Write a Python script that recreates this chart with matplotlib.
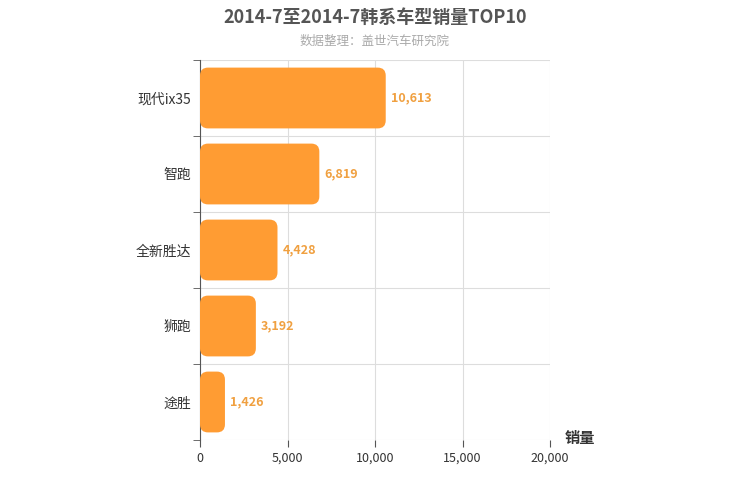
import matplotlib
matplotlib.use("Agg")
import matplotlib.pyplot as plt
from matplotlib.patches import FancyBboxPatch

plt.rcParams['font.family'] = ['Noto Sans CJK SC', 'DejaVu Sans']

categories = ["现代ix35", "智跑", "全新胜达", "狮跑", "途胜"]
values = [10613, 6819, 4428, 3192, 1426]
xticks = [0, 5000, 10000, 15000, 20000]

fig = plt.figure(figsize=(7.5, 5), dpi=100)
ax = fig.add_axes([200/750, 60/500, 350/750, 380/500])
n = len(categories)
ax.set_xlim(0, 20000)
ax.set_ylim(-0.5, n - 0.5)
ax.invert_yaxis()

xpp = 20000 / 350
ypp = n / 380
r = 8 * xpp
bh = 0.8
for i, v in enumerate(values):
    p = FancyBboxPatch((0, i - bh/2), v, bh,
                       boxstyle=f"round,pad=0,rounding_size={r}",
                       mutation_aspect=ypp/xpp,
                       fc="#FF9C33", ec="none", zorder=3)
    ax.add_patch(p)
    ax.text(v + 300, i, f"{v:,}", va="center", ha="left",
            color="#F0A040", fontsize=9, fontweight="bold", zorder=4)

for x in xticks:
    ax.axvline(x, color="#dddddd", lw=0.8, zorder=1)
for b in range(n + 1):
    ax.axhline(b - 0.5, color="#dddddd", lw=0.8, zorder=1)

ax.set_yticks(range(n))
ax.set_yticklabels(categories, fontsize=10, color="#333333")
ax.set_yticks([b - 0.5 for b in range(n + 1)], minor=True)
ax.tick_params(axis='y', which='major', length=0, pad=6)
ax.tick_params(axis='y', which='minor', length=5, color="#555555")
ax.set_xticks(xticks)
ax.set_xticklabels([f"{x:,}" for x in xticks], fontsize=9, color="#333333")
ax.tick_params(axis='x', length=5, color="#555555")

for s in ['top', 'right']:
    ax.spines[s].set_visible(False)
ax.spines['bottom'].set_visible(False)
ax.spines['left'].set_color("#555555")

fig.text(0.5, 0.965, "2014-7至2014-7韩系车型销量TOP10", ha="center", va="center",
         fontsize=13, fontweight="bold", color="#555555")
fig.text(0.5, 0.918, "数据整理：盖世汽车研究院", ha="center", va="center",
         fontsize=9, color="#aaaaaa")
fig.text(565/750, 1 - 438/500, "销量", ha="left", va="center",
         fontsize=11, fontweight="bold", color="#333333")

fig.savefig("out.png", dpi=100)
